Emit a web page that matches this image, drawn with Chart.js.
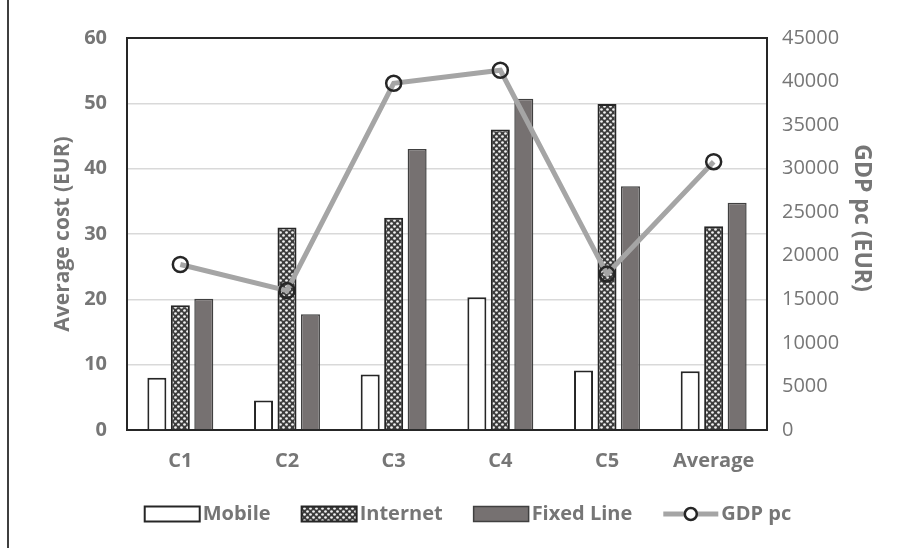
<!DOCTYPE html>
<html>
<head>
<meta charset="utf-8">
<script src="https://cdn.jsdelivr.net/npm/chart.js@4/dist/chart.umd.min.js"></script>
<style>
  html, body { margin: 0; padding: 0; background: #ffffff; }
  #wrap { position: relative; width: 905px; height: 548px; }
</style>
</head>
<body>
<div id="wrap"><canvas id="c" width="905" height="548"></canvas></div>
<script>
// Categories and series
const categories = ['C1', 'C2', 'C3', 'C4', 'C5', 'Average'];
const mobile     = [8.0, 4.5, 8.5, 20.3, 9.1, 9.0];
const internet   = [19.1, 31.0, 32.5, 46.0, 49.9, 31.2];
const fixedLine  = [20.1, 17.7, 43.0, 50.7, 37.3, 34.8];
const gdpPc      = [19000, 16000, 39800, 41300, 17900, 30800];

// Axis ranges / steps and titles
const costTicks = { min: 0, max: 60, step: 10 };
const gdpTicks  = { min: 0, max: 45000, step: 5000 };
const costTitle = 'Average cost (EUR)';
const gdpTitle  = 'GDP pc (EUR)';

const FONT = "'Open Sans', 'Liberation Sans', sans-serif";
const TEXT_GRAY = '#767676';
const DARK = '#262626';

// Dotted fill used for the Internet bars
function makeDotPattern() {
  const t = document.createElement('canvas');
  t.width = 6; t.height = 6;
  const g = t.getContext('2d');
  g.fillStyle = '#3c3c3c';
  g.fillRect(0, 0, 6, 6);
  g.fillStyle = '#f2f2f2';
  g.beginPath(); g.arc(1.5, 1.5, 1.35, 0, Math.PI * 2); g.fill();
  g.beginPath(); g.arc(4.5, 4.5, 1.35, 0, Math.PI * 2); g.fill();
  return document.getElementById('c').getContext('2d').createPattern(t, 'repeat');
}
const dotPattern = makeDotPattern();

// Frame around the plot area
const plotFrame = {
  id: 'plotFrame',
  beforeDatasetsDraw(chart) {
    const { ctx, chartArea: a } = chart;
    ctx.save();
    ctx.strokeStyle = DARK;
    ctx.lineWidth = 2;
    ctx.strokeRect(a.left, a.top, a.right - a.left, a.bottom - a.top);
    ctx.restore();
  }
};

// Right-hand axis title, the legend row and the outer left rule
const extras = {
  id: 'extras',
  afterDraw(chart) {
    const ctx = chart.ctx;
    ctx.save();
    ctx.fillStyle = '#3f3f3f';
    ctx.fillRect(7, 0, 2, chart.height);

    // secondary axis title, reading downwards
    ctx.save();
    ctx.translate(862, 218);
    ctx.rotate(Math.PI / 2);
    ctx.font = 'bold 23px ' + FONT;
    ctx.fillStyle = TEXT_GRAY;
    ctx.textAlign = 'center';
    ctx.textBaseline = 'middle';
    ctx.fillText(gdpTitle, 0, 0);
    ctx.restore();

    ctx.font = 'bold 20px ' + FONT;
    ctx.textBaseline = 'middle';
    const boxW = 55, boxH = 15, gapText = 3, gapItem = 31, cy = 514;
    const items = chart.data.datasets.map(ds => ({
      ds, w: boxW + gapText + ctx.measureText(ds.label).width
    }));
    const total = items.reduce((s, it) => s + it.w, 0) + gapItem * (items.length - 1);
    let x = 468 - total / 2;
    items.forEach(({ ds, w }) => {
      if (ds.type === 'line') {
        ctx.strokeStyle = ds.borderColor;
        ctx.lineWidth = ds.borderWidth;
        ctx.beginPath(); ctx.moveTo(x, cy); ctx.lineTo(x + boxW, cy); ctx.stroke();
        ctx.strokeStyle = ds.pointBorderColor;
        ctx.lineWidth = ds.pointBorderWidth;
        ctx.fillStyle = '#ffffff';
        ctx.beginPath(); ctx.arc(x + boxW / 2, cy, 6, 0, Math.PI * 2); ctx.fill(); ctx.stroke();
      } else {
        ctx.fillStyle = ds.backgroundColor;
        ctx.fillRect(x, cy - boxH / 2, boxW, boxH);
        ctx.strokeStyle = ds.borderColor;
        ctx.lineWidth = ds.borderWidth;
        ctx.strokeRect(x, cy - boxH / 2, boxW, boxH);
      }
      ctx.fillStyle = TEXT_GRAY;
      ctx.textAlign = 'left';
      ctx.fillText(ds.label, x + boxW + gapText, cy);
      x += w + gapItem;
    });
    ctx.restore();
  }
};

const barCommon = {
  type: 'bar',
  yAxisID: 'y',
  categoryPercentage: 0.66,
  barPercentage: 0.81,
  order: 2
};

new Chart(document.getElementById('c'), {
  data: {
    labels: categories,
    datasets: [
      { ...barCommon, label: 'Mobile', data: mobile,
        backgroundColor: '#ffffff', borderColor: DARK, borderWidth: 2 },
      { ...barCommon, label: 'Internet', data: internet,
        backgroundColor: dotPattern, borderColor: DARK, borderWidth: 2 },
      { ...barCommon, label: 'Fixed Line', data: fixedLine,
        backgroundColor: '#767171', borderColor: '#404040', borderWidth: 1.5 },
      { type: 'line', label: 'GDP pc', data: gdpPc, yAxisID: 'y1', order: 1,
        borderColor: '#a5a5a5', borderWidth: 5,
        pointRadius: 7.5, pointBorderWidth: 2.5, pointBorderColor: DARK,
        pointBackgroundColor: 'rgba(255,255,255,0)', tension: 0 }
    ]
  },
  options: {
    responsive: false,
    animation: false,
    devicePixelRatio: 1,
    layout: { padding: { top: 38, left: 0, right: 0, bottom: 0 } },
    plugins: { legend: { display: false }, tooltip: { enabled: false } },
    scales: {
      x: {
        grid: { display: false, drawTicks: false },
        border: { color: DARK, width: 2 },
        ticks: { color: TEXT_GRAY, font: { family: FONT, size: 20, weight: 'bold' }, padding: 19 },
        afterFit: s => { s.height = 118; }
      },
      y: {
        position: 'left',
        min: costTicks.min, max: costTicks.max,
        ticks: { stepSize: costTicks.step, padding: 20, color: TEXT_GRAY,
                 font: { family: FONT, size: 20, weight: 'bold' } },
        grid: { color: '#d9d9d9', lineWidth: 1.5, drawTicks: false },
        border: { display: false },
        title: { display: true, text: costTitle, color: TEXT_GRAY,
                 font: { family: FONT, size: 21, weight: 'bold' }, padding: { top: 50, bottom: 0 } },
        afterFit: s => { s.width = 127; }
      },
      y1: {
        position: 'right',
        min: gdpTicks.min, max: gdpTicks.max,
        ticks: { stepSize: gdpTicks.step, padding: 15, color: TEXT_GRAY,
                 font: { family: FONT, size: 20 },
                 callback: v => String(v) },
        grid: { display: false, drawTicks: false },
        border: { display: false },
        title: { display: false },
        afterFit: s => { s.width = 138; }
      }
    }
  },
  plugins: [plotFrame, extras]
});
</script>
</body>
</html>
